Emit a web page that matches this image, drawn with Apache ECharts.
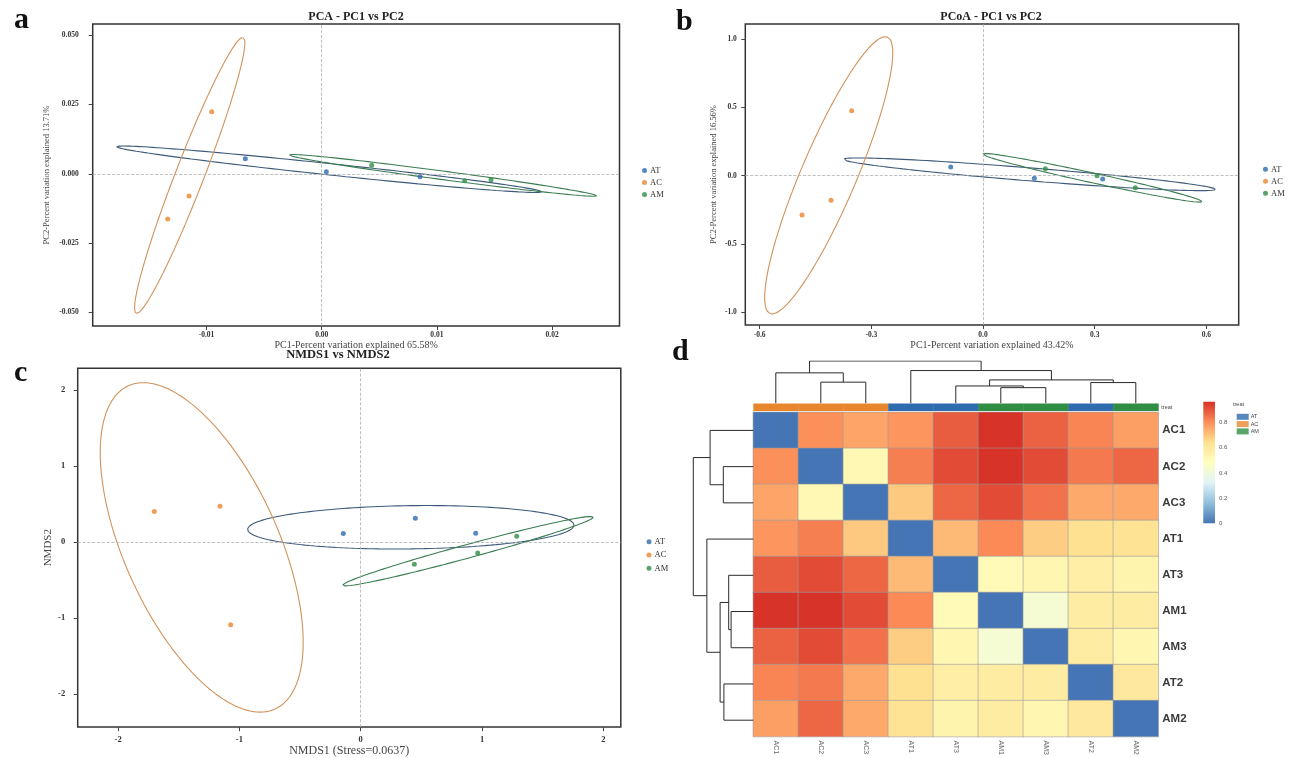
<!DOCTYPE html>
<html><head><meta charset="utf-8">
<script src="https://cdn.jsdelivr.net/npm/echarts@6/dist/echarts.min.js"></script>
<style>html,body{margin:0;padding:0;background:#fff}#c{width:1304px;height:758px}</style>
</head><body><div id="c"></div>
<script>
// ---------------- data ----------------
const groups = ['AT', 'AC', 'AM'];

// PCA scores (PC1, PC2)
const pcaAT = [[-0.00663, 0.00542], [0.0004, 0.00072], [0.00853, -0.00108]];
const pcaAC = [[-0.00955, 0.0224], [-0.01152, -0.00806], [-0.01337, -0.01637]];
const pcaAM = [[0.00434, 0.00303], [0.01241, -0.00253], [0.0147, -0.00217]];
// PCoA scores
const pcoaAT = [[-0.0868, 0.0637], [0.1379, -0.019], [0.3215, -0.0242]];
const pcoaAC = [[-0.3527, 0.4758], [-0.4083, -0.1801], [-0.4862, -0.2877]];
const pcoaAM = [[0.1674, 0.0512], [0.3062, 0.0], [0.4091, -0.0878]];
// NMDS scores
const nmdsAT = [[-0.1434, 0.1142], [0.4501, 0.315], [0.948, 0.1181]];
const nmdsAC = [[-1.7016, 0.403], [-1.16, 0.4724], [-1.0717, -1.089]];
const nmdsAM = [[0.4419, -0.2927], [0.9646, -0.1444], [1.286, 0.0787]];

// confidence ellipses: centre (cx,cy) and two conjugate semi-diameters (ax,ay),(bx,by), data units
const pcaEllAT = [0.00065, 0.00163, 0.01845, -0.00813, 0, 0.00206];
const pcaEllAC = [-0.01146, -0.00058, 0.0046, 0.04986, 0.00133, 0];
const pcaEllAM = [0.01053, -0.00058, 0.01334, -0.00737, 0, 0.00155];
const pcoaEllAT = [0.1241, 0.0102, 0.4999, -0.1098, 0, 0.0476];
const pcoaEllAC = [-0.4145, 0.003, 0.152, 1.0146, 0.0806, 0];
const pcoaEllAM = [0.2936, -0.0154, 0.2947, -0.1742, 0, 0.0366];
const nmdsEllAT = [0.413, 0.1955, 1.3454, 0.0276, 0, 0.2848];
const nmdsEllAC = [-1.3108, -0.0696, -0.4815, 2.1693, 0.684, 0];
const nmdsEllAM = [0.8846, -0.1194, 1.033, 0.4475, 0, 0.0919];

// tick labels
const pcaXTicks = [-0.01, 0, 0.01, 0.02];
const pcaYTicks = [-0.05, -0.025, 0, 0.025, 0.05];
const pcoaXTicks = [-0.6, -0.3, 0, 0.3, 0.6];
const pcoaYTicks = [-1, -0.5, 0, 0.5, 1];
const nmdsXTicks = [-2, -1, 0, 1, 2];
const nmdsYTicks = [-2, -1, 0, 1, 2];
const colorbarTicks = [0, 0.2, 0.4, 0.6, 0.8];

// heatmap (distance matrix)
const samples = ['AC1', 'AC2', 'AC3', 'AT1', 'AT3', 'AM1', 'AM3', 'AT2', 'AM2'];
const sampleGroup = ['AC', 'AC', 'AC', 'AT', 'AT', 'AM', 'AM', 'AT', 'AM'];
const rowAC1 = [0, 0.80, 0.76, 0.79, 0.89, 0.96, 0.88, 0.82, 0.77];
const rowAC2 = [0.80, 0, 0.52, 0.83, 0.92, 0.96, 0.92, 0.84, 0.87];
const rowAC3 = [0.76, 0.52, 0, 0.69, 0.87, 0.92, 0.85, 0.75, 0.75];
const rowAT1 = [0.79, 0.83, 0.69, 0, 0.72, 0.81, 0.68, 0.64, 0.63];
const rowAT3 = [0.89, 0.92, 0.87, 0.72, 0, 0.51, 0.53, 0.57, 0.54];
const rowAM1 = [0.96, 0.96, 0.92, 0.81, 0.51, 0, 0.43, 0.58, 0.58];
const rowAM3 = [0.88, 0.92, 0.85, 0.68, 0.53, 0.43, 0, 0.58, 0.53];
const rowAT2 = [0.82, 0.84, 0.75, 0.64, 0.57, 0.58, 0.58, 0, 0.60];
const rowAM2 = [0.77, 0.87, 0.75, 0.63, 0.54, 0.58, 0.53, 0.60, 0];
// hierarchical clustering merges: [left, right, height]; numbers refer to earlier merges
const merges = [
  ['AC2', 'AC3', 0.50],
  ['AC1', 0, 0.72],
  ['AM1', 'AM3', 0.37],
  ['AT3', 2, 0.41],
  ['AT2', 'AM2', 0.49],
  [3, 4, 0.553],
  ['AT1', 5, 0.774],
  [1, 6, 1.0]
];

// ---------------- styles ----------------
const groupColor = { AT: '#2e6cae', AC: '#e8862e', AM: '#2f8e43' };
const ellColor = { AT: '#3d5a7a', AC: '#d3925a', AM: '#3b7d52' };
const palette = ['#4575B4', '#91BFDB', '#E0F3F8', '#FFFFBF', '#FEE090', '#FC8D59', '#D73027'];
const serif = 'Liberation Serif';
const sans = 'Liberation Sans';

function ellipse(e) {
  const [cx, cy, ax, ay, bx, by] = e;
  const pts = [];
  for (let i = 0; i <= 160; i++) {
    const t = i / 160 * 2 * Math.PI;
    pts.push([cx + ax * Math.cos(t) + bx * Math.sin(t), cy + ay * Math.cos(t) + by * Math.sin(t)]);
  }
  return pts;
}

function scatterAxis(gi, min, max, ticks, fmt, fs, margin, name, nameGap, nameFs) {
  return {
    type: 'value', gridIndex: gi, min: min, max: max,
    axisLine: { show: false, onZero: false },
    splitLine: { show: false },
    axisTick: { show: true, customValues: ticks, length: 4, lineStyle: { color: '#444', width: 1 } },
    axisLabel: { customValues: ticks, formatter: fmt, fontSize: fs, fontFamily: serif, fontWeight: 'bold', color: '#333', margin: margin },
    name: name, nameLocation: 'middle', nameGap: nameGap,
    nameTextStyle: { fontFamily: serif, fontSize: nameFs, color: '#444' }
  };
}

const series = [];
function panel(gi, pts, ells) {
  groups.forEach((g, k) => {
    const ls = {
      name: g + ' ellipse', type: 'line', xAxisIndex: gi, yAxisIndex: gi,
      data: ellipse(ells[g]), showSymbol: false, symbol: 'none', silent: true,
      lineStyle: { color: ellColor[g], width: 1.1 }, z: 3
    };
    if (k === 0) {
      ls.markLine = {
        silent: true, symbol: ['none', 'none'], label: { show: false },
        lineStyle: { type: 'dashed', color: '#b0b0b0', width: 0.8 },
        data: [{ xAxis: 0 }, { yAxis: 0 }]
      };
    }
    series.push(ls);
  });
  groups.forEach(g => {
    series.push({
      name: g, type: 'scatter', xAxisIndex: gi, yAxisIndex: gi, data: pts[g],
      symbolSize: 5, itemStyle: { color: groupColor[g] }, z: 5
    });
  });
}
panel(0, { AT: pcaAT, AC: pcaAC, AM: pcaAM }, { AT: pcaEllAT, AC: pcaEllAC, AM: pcaEllAM });
panel(1, { AT: pcoaAT, AC: pcoaAC, AM: pcoaAM }, { AT: pcoaEllAT, AC: pcoaEllAC, AM: pcoaEllAM });
panel(2, { AT: nmdsAT, AC: nmdsAC, AM: nmdsAM }, { AT: nmdsEllAT, AC: nmdsEllAC, AM: nmdsEllAM });

// heatmap
const dist = [rowAC1, rowAC2, rowAC3, rowAT1, rowAT3, rowAM1, rowAM3, rowAT2, rowAM2];
const heatData = [];
dist.forEach((row, r) => row.forEach((v, c) => heatData.push([c, r, v])));
const heatIndex = series.length;
series.push({
  type: 'heatmap', xAxisIndex: 3, yAxisIndex: 3, data: heatData,
  itemStyle: { borderColor: '#9b9b9b', borderWidth: 0.6 }, emphasis: { disabled: true }
});

// dendrogram segments
const pos = {}, hgt = {};
samples.forEach((s, i) => { pos[s] = i; hgt[s] = 0; });
const dendroTop = [], dendroLeft = [];
merges.forEach((m, i) => {
  const l = m[0], r = m[1], h = m[2];
  const pl = pos[l], pr = pos[r], hl = hgt[l], hr = hgt[r];
  pos[i] = (pl + pr) / 2; hgt[i] = h;
  dendroTop.push({ coords: [[pl, hl], [pl, h], [pr, h], [pr, hr]] });
  dendroLeft.push({ coords: [[hl, pl], [h, pl], [h, pr], [hr, pr]] });
});
series.push({
  type: 'lines', coordinateSystem: 'cartesian2d', xAxisIndex: 4, yAxisIndex: 4, polyline: true,
  data: dendroTop, lineStyle: { color: '#2a2a2a', width: 1, opacity: 1 }, silent: true
});
series.push({
  type: 'lines', coordinateSystem: 'cartesian2d', xAxisIndex: 5, yAxisIndex: 5, polyline: true,
  data: dendroLeft, lineStyle: { color: '#2a2a2a', width: 1, opacity: 1 }, silent: true
});
// annotation bar
series.push({
  type: 'custom', xAxisIndex: 6, yAxisIndex: 6, silent: true,
  data: samples.map((s, i) => [i, 0]),
  renderItem: function (params, api) {
    const i = api.value(0);
    const p = api.coord([i, 0]);
    const s = api.size([1, 1]);
    return {
      type: 'rect',
      shape: { x: p[0] - s[0] / 2, y: p[1] - s[1] / 2, width: s[0] + 0.4, height: s[1] },
      style: { fill: groupColor[sampleGroup[i]] }
    };
  }
});

const scatterLegend = (left, top, gap) => ({
  orient: 'vertical', left: left, top: top, data: groups, icon: 'circle',
  itemWidth: 5, itemHeight: 5, itemGap: gap, selectedMode: false,
  textStyle: { fontFamily: serif, fontSize: 8.5, color: '#333', lineHeight: 10, padding: [0, 0, 0, -2] }
});

const option = {
  animation: false,
  backgroundColor: '#fff',
  grid: [
    { left: 92.7, top: 24, width: 526.8, height: 302, show: true, borderColor: '#333', borderWidth: 1.5, backgroundColor: 'transparent' },
    { left: 745.3, top: 24, width: 493.4, height: 301, show: true, borderColor: '#333', borderWidth: 1.5, backgroundColor: 'transparent' },
    { left: 77.7, top: 368.3, width: 543.1, height: 360, show: true, borderColor: '#333', borderWidth: 1.5, backgroundColor: 'transparent' },
    { left: 753.3, top: 412.3, width: 405, height: 326 },
    { left: 753.3, top: 361, width: 405, height: 42.3 },
    { left: 693.3, top: 412.3, width: 60, height: 326 },
    { left: 753.3, top: 403.5, width: 405, height: 7.5 },
    { left: 1203.3, top: 401.7, width: 11.7, height: 121.6 }
  ],
  xAxis: [
    scatterAxis(0, -0.01988, 0.02585, pcaXTicks, v => v.toFixed(2), 7.5, 5, 'PC1-Percent variation explained 65.58%', 10.5, 10),
    scatterAxis(1, -0.6385, 0.6868, pcoaXTicks, v => v.toFixed(1), 7.5, 6, 'PC1-Percent variation explained 43.42%', 12, 10),
    scatterAxis(2, -2.333, 2.144, nmdsXTicks, v => String(v), 8.5, 8, 'NMDS1 (Stress=0.0637)', 16, 12),
    { type: 'category', gridIndex: 3, data: samples, axisLine: { show: false }, axisTick: { show: false },
      axisLabel: { rotate: -90, fontSize: 7, color: '#666', fontFamily: sans, margin: 4 } },
    { type: 'value', gridIndex: 4, min: -0.5, max: 8.5, show: false },
    { type: 'value', gridIndex: 5, min: 0, max: 1, inverse: true, show: false },
    { type: 'category', gridIndex: 6, data: samples, show: false },
    { type: 'value', gridIndex: 7, min: 0, max: 1, show: false }
  ],
  yAxis: [
    scatterAxis(0, -0.0550, 0.0541, pcaYTicks, v => v.toFixed(3), 7.5, 14, 'PC2-Percent variation explained 13.71%', 41, 8.5),
    scatterAxis(1, -1.093, 1.1105, pcoaYTicks, v => v.toFixed(1), 7.5, 8.5, 'PC2-Percent variation explained 16.56%', 27.5, 8.5),
    scatterAxis(2, -2.436, 2.289, nmdsYTicks, v => String(v), 8.5, 12.5, 'NMDS2', 24, 11),
    { type: 'category', gridIndex: 3, data: samples, inverse: true, position: 'right',
      axisLine: { show: false }, axisTick: { show: false },
      axisLabel: { fontSize: 11.5, fontWeight: 'bold', color: '#3a3a3a', fontFamily: sans, margin: 4 } },
    { type: 'value', gridIndex: 4, min: 0, max: 1, show: false },
    { type: 'value', gridIndex: 5, min: -0.5, max: 8.5, inverse: true, show: false },
    { type: 'category', gridIndex: 6, data: ['treat'], position: 'right',
      axisLine: { show: false }, axisTick: { show: false },
      axisLabel: { fontSize: 5.5, color: '#444', fontFamily: sans, margin: 3 } },
    { type: 'value', gridIndex: 7, min: 0, max: 0.966, position: 'right',
      axisLine: { show: false }, axisTick: { show: false }, splitLine: { show: false },
      axisLabel: { customValues: colorbarTicks, formatter: v => String(v), fontSize: 6, color: '#555', fontFamily: sans, margin: 4 } }
  ],
  visualMap: [{
    type: 'continuous', min: 0, max: 0.966, seriesIndex: heatIndex, show: false,
    inRange: { color: palette }
  }],
  legend: [
    scatterLegend(637, 160.5, 2),
    scatterLegend(1258, 159.3, 2),
    scatterLegend(641.5, 531.7, 3.3),
    { orient: 'vertical', left: 1231.7, top: 408.8, data: groups, icon: 'rect',
      itemWidth: 12, itemHeight: 6, itemGap: 1.3, selectedMode: false,
      textStyle: { fontFamily: sans, fontSize: 5.5, color: '#444', lineHeight: 6, padding: [0, 0, 0, -3] } }
  ],
  graphic: [
    { type: 'text', style: { x: 356, y: 17, text: 'PCA - PC1 vs PC2', align: 'center', verticalAlign: 'middle', font: 'bold 12px "Liberation Serif"', fill: '#222' } },
    { type: 'text', style: { x: 991, y: 17, text: 'PCoA - PC1 vs PC2', align: 'center', verticalAlign: 'middle', font: 'bold 12px "Liberation Serif"', fill: '#222' } },
    { type: 'text', style: { x: 338, y: 355, text: 'NMDS1 vs NMDS2', align: 'center', verticalAlign: 'middle', font: 'bold 12.5px "Liberation Serif"', fill: '#222' } },
    { type: 'text', style: { x: 14, y: 20.5, text: 'a', align: 'left', verticalAlign: 'middle', font: 'bold 30px "Liberation Serif"', fill: '#111' } },
    { type: 'text', style: { x: 676, y: 22, text: 'b', align: 'left', verticalAlign: 'middle', font: 'bold 30px "Liberation Serif"', fill: '#111' } },
    { type: 'text', style: { x: 14, y: 373.5, text: 'c', align: 'left', verticalAlign: 'middle', font: 'bold 30px "Liberation Serif"', fill: '#111' } },
    { type: 'text', style: { x: 672, y: 352, text: 'd', align: 'left', verticalAlign: 'middle', font: 'bold 30px "Liberation Serif"', fill: '#111' } },
    { type: 'text', style: { x: 1233, y: 404.5, text: 'treat', align: 'left', verticalAlign: 'middle', font: '5.5px "Liberation Sans"', fill: '#444' } },
    { type: 'rect', shape: { x: 1203.3, y: 401.7, width: 11.7, height: 121.6 },
      style: { fill: new echarts.graphic.LinearGradient(0, 0, 0, 1,
        palette.slice().reverse().map((c, i) => ({ offset: i / (palette.length - 1), color: c }))) } }
  ],
  series: series
};

const chart = echarts.init(document.getElementById('c'), null, { renderer: 'canvas' });
chart.setOption(option);
</script></body></html>
